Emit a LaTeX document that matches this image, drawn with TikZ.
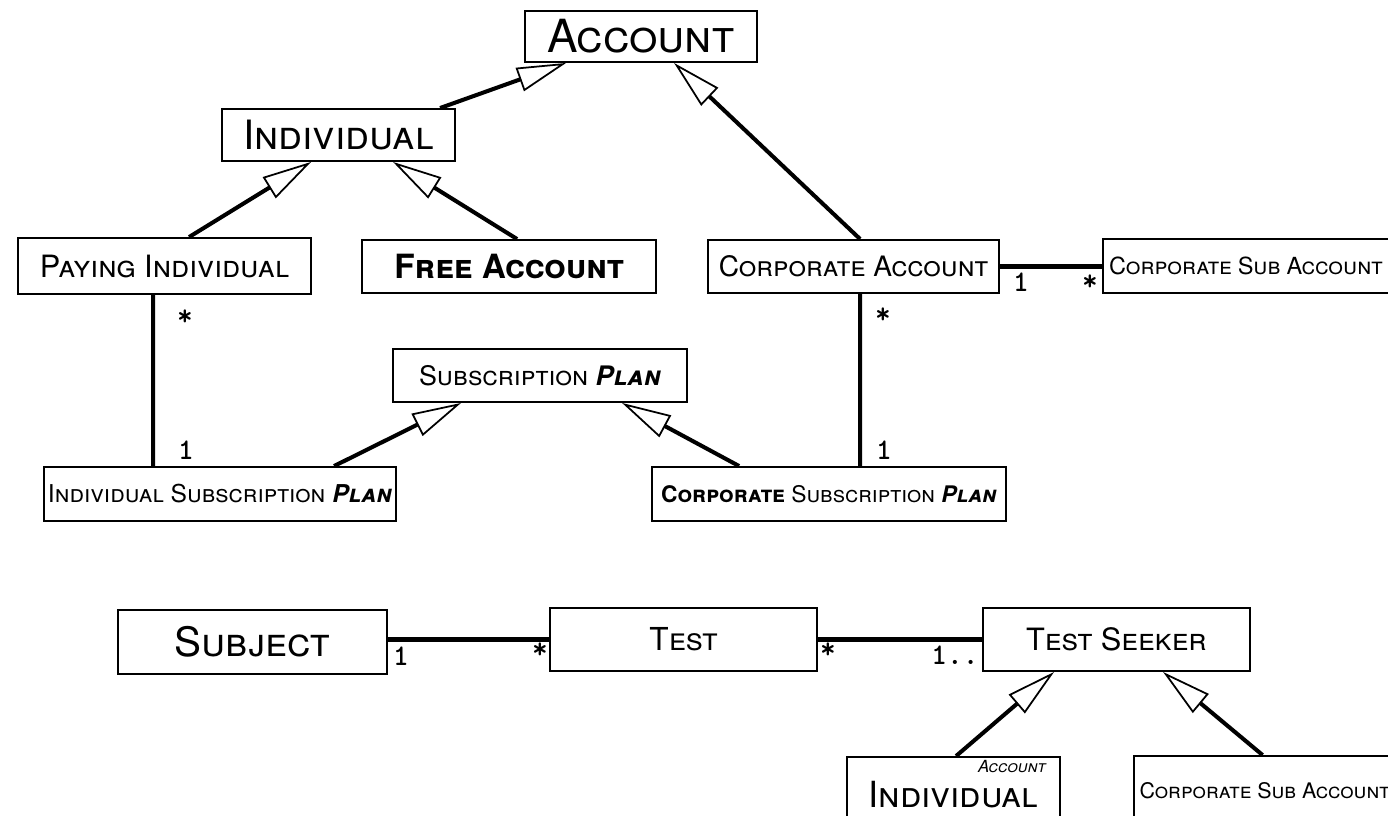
\documentclass[tikz,border=0pt]{standalone}
\usepackage{fontspec}
\setmainfont{TeX Gyre Heros}
\usetikzlibrary{arrows.meta,calc}

\newcommand{\sz}[1]{\fontsize{#1}{#1}\selectfont}

\tikzset{
  cls/.style={draw, line width=1.1pt, inner sep=2pt, font=\scshape},
  isa/.style={line width=2.3pt, -{Triangle[open, length=28pt, width=14pt, line width=1pt]}},
  assoc/.style={line width=2.3pt},
  mult/.style={font=\ttfamily\bfseries\sz{17}, inner sep=0pt},
}

\begin{document}
\begin{tikzpicture}[x=0.02cm, y=-0.02cm]
\useasboundingbox (0,0) rectangle (1388,815);
\clip (0,0) rectangle (1388,815);

% account hierarchy
\node[cls, minimum width=4.64cm, minimum height=1.02cm] (acc) at (641,36.5) {\sz{26}Account};
\node[cls, minimum width=4.66cm, minimum height=1.04cm] (ind) at (338.5,135) {\sz{23}Individual};
\node[cls, minimum width=5.86cm, minimum height=1.12cm] (payind) at (164.5,266) {\sz{17.5}Paying Individual};
\node[cls, minimum width=5.88cm, minimum height=1.06cm] (freeacc) at (509,266.5) {\sz{19}\bfseries Free Account};
\node[cls, minimum width=5.82cm, minimum height=1.06cm] (corpacc) at (853.5,266.5) {\sz{16}Corporate Account};
\node[cls, text width=6.1cm, inner xsep=0.12cm, align=left, minimum height=1.08cm] (corpsub) at (1261.5,266) {\sz{13.4}Corporate Sub Account};

% plans
\node[cls, minimum width=5.88cm, minimum height=1.06cm] (subplan) at (540,375.5) {\sz{15.3}Subscription \textbf{\textit{Plan}}};
\node[cls, minimum width=7.04cm, minimum height=1.08cm] (indplan) at (220,494) {\sz{14}Individual Subscription \textbf{\textit{Plan}}};
\node[cls, minimum width=7.08cm, minimum height=1.08cm] (corpplan) at (829,494) {\sz{13}\textbf{Corporate} Subscription \textbf{\textit{Plan}}};

% tests
\node[cls, minimum width=5.38cm, minimum height=1.28cm] (subject) at (252.5,642) {\sz{23}Subject};
\node[cls, minimum width=5.34cm, minimum height=1.26cm] (test) at (683.5,639.5) {\sz{18}Test};
\node[cls, minimum width=5.34cm, minimum height=1.26cm] (seeker) at (1116.5,639.5) {\sz{17.5}Test Seeker};
\node[cls, minimum width=4.26cm, minimum height=1.52cm] (indacc) at (953.5,795) {\sz{20.5}Individual};
\node[font=\scshape\itshape\sz{9.5}, inner sep=0pt] (indtag) at (1012,767) {Account};
\node[cls, text width=5.5cm, inner xsep=0.12cm, align=left, minimum height=1.38cm] (corpsub2) at (1277,790.5) {\sz{12.2}Corporate Sub Account};

% generalisations
\draw[isa] ($(ind.north west)+(219,0)$) -- ($(acc.south west)+(42,0)$);
\draw[isa] ($(corpacc.north west)+(153,0)$) -- ($(acc.south west)+(150,0)$);
\draw[isa] ($(payind.north west)+(172,0)$) -- ($(ind.south west)+(90,0)$);
\draw[isa] ($(freeacc.north west)+(156,0)$) -- ($(ind.south west)+(172,0)$);
\draw[isa] ($(indplan.north west)+(291,0)$) -- ($(subplan.south west)+(69,0)$);
\draw[isa] ($(corpplan.north west)+(88,0)$) -- ($(subplan.south west)+(230,0)$);
\draw[isa] ($(indacc.north west)+(110,0)$) -- ($(seeker.south west)+(72,0)$);
\draw[isa] ($(corpsub2.north west)+(130,0)$) -- ($(seeker.south west)+(181,0)$);

% associations
\draw[assoc] ($(payind.south west)+(136,0)$) -- ($(indplan.north west)+(110,0)$);
\draw[assoc] ($(corpacc.south west)+(153,0)$) -- ($(corpplan.north west)+(209,0)$);
\draw[assoc] (corpacc.east) -- (corpacc.east -| corpsub.west);
\draw[assoc] (test.west -| subject.east) -- (test.west);
\draw[assoc] (test.east) -- (seeker.west);

\node[mult] (m1) at (185,318) {*};
\node[mult] (m2) at (186,450) {1};
\node[mult] (m3) at (883,316) {*};
\node[mult] (m4) at (884,450) {1};
\node[mult] (m5) at (1021,282) {1};
\node[mult] (m6) at (1090,283) {*};
\node[mult] (m7) at (401,656) {1};
\node[mult] (m8) at (540,651) {*};
\node[mult] (m9) at (828,651) {*};
\node[mult] (m10) at (955,655) {1..};

\end{tikzpicture}
\end{document}
